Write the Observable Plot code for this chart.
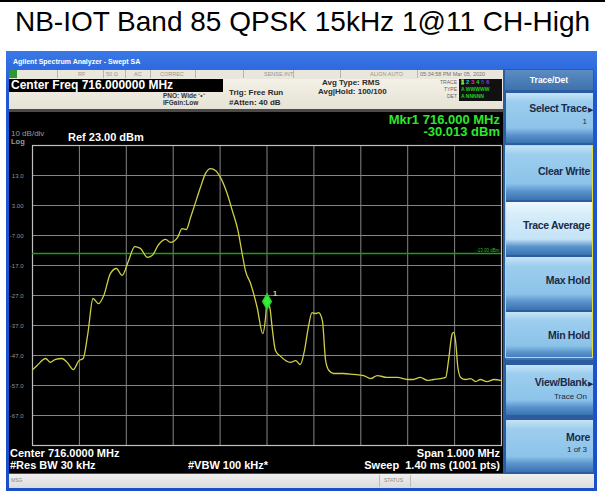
<!DOCTYPE html>
<html><head><meta charset="utf-8">
<script src="https://cdn.jsdelivr.net/npm/d3@7"></script>
<script src="https://cdn.jsdelivr.net/npm/@observablehq/plot@0.6"></script>
<style>
body{margin:0;background:#fff;}
#root{position:relative;width:605px;height:492px;overflow:hidden;font-family:"Liberation Sans",Arial,sans-serif;background:#fff;}
.a{position:absolute;white-space:nowrap;}
.btn{position:absolute;left:506px;width:87px;background:linear-gradient(#c6e4f7 0%,#9ccdee 18%,#8cc3e9 70%,#5a93cc 84%,#3a72b2 100%);}
.btn.sel{background:linear-gradient(#eef8fd 0%,#d8eefa 20%,#c4e3f6 70%,#5a93cc 84%,#3a72b2 100%);}
.bt{position:absolute;right:3px;font-weight:bold;font-size:10.5px;color:#1b2a48;letter-spacing:-0.3px;}
.bs{position:absolute;right:6px;font-size:8px;color:#1b2a48;}
.st{position:absolute;font-size:5.5px;color:#9a968c;line-height:8px;top:70px;}
.sep{position:absolute;top:70px;width:1px;height:8px;background:#b8b4a8;}
.w{color:#fff;font-weight:bold;font-size:11px;line-height:12px;}
#chart svg{overflow:visible;}
</style></head>
<body><div id="root">
<div class="a" style="left:0;top:0;width:605px;height:2px;background:#000"></div>
<div class="a" style="left:0;top:7px;width:605px;text-align:center;font-size:28px;line-height:30px;color:#000">NB-IOT Band 85 QPSK 15kHz 1@11 CH-High</div>
<div class="a" style="left:6px;top:51px;width:591px;height:440px;background:linear-gradient(#3a78e6,#1f56d2 10%,#1b4fc8)"></div>
<div class="a" style="left:13px;top:57px;font-size:7px;font-weight:bold;color:#fff;line-height:9px">Agilent Spectrum Analyzer - Swept SA</div>
<div class="a" style="left:9px;top:70px;width:494px;height:9px;background:#e9e6dc"></div>
<div class="a" style="left:9px;top:70px;width:8px;height:8px;background:#2f9a2f"></div>
<div class="sep" style="left:57px"></div><div class="sep" style="left:103px"></div><div class="sep" style="left:125px"></div><div class="sep" style="left:150px"></div><div class="sep" style="left:195px"></div><div class="sep" style="left:243px"></div><div class="sep" style="left:293px"></div><div class="sep" style="left:340px"></div><div class="sep" style="left:417px"></div>
<div class="st" style="left:78px">RF</div><div class="st" style="left:106px">50 Ω</div><div class="st" style="left:134px">AC</div><div class="st" style="left:160px">CORREC</div><div class="st" style="left:264px">SENSE:INT</div><div class="st" style="left:370px">ALIGN AUTO</div><div class="st" style="left:420px;color:#77736a">05:34:58 PM Mar 05, 2020</div>
<div class="a" style="left:9px;top:79px;width:494px;height:30px;background:linear-gradient(#f3f0e6,#e6e2d6)"></div>
<div class="a" style="left:9px;top:79px;width:214px;height:13px;background:#000"></div>
<div class="a" style="left:11px;top:79px;font-size:12px;line-height:13px;font-weight:bold;color:#fff">Center Freq 716.000000 MHz</div>
<div class="a" style="left:163px;top:92px;font-size:6.5px;font-weight:bold;color:#333;line-height:7px">PNO: Wide ⁻•⁻</div>
<div class="a" style="left:163px;top:99px;font-size:6.5px;font-weight:bold;color:#333;line-height:7px">IFGain:Low</div>
<div class="a" style="left:229px;top:88px;font-size:8px;font-weight:bold;color:#2a2a2a;line-height:9px">Trig: Free Run</div>
<div class="a" style="left:229px;top:98px;font-size:8px;font-weight:bold;color:#2a2a2a;line-height:9px">#Atten: 40 dB</div>
<div class="a" style="left:322px;top:78px;font-size:8px;font-weight:bold;color:#2a2a2a;line-height:9px">Avg Type: RMS</div>
<div class="a" style="left:318px;top:87px;font-size:8px;font-weight:bold;color:#2a2a2a;line-height:9px">Avg|Hold: 100/100</div>
<div class="a" style="left:430px;top:79px;width:27px;text-align:right;font-size:5px;color:#666;line-height:7px">TRACE<br>TYPE<br>DET</div>
<div class="a" style="left:459px;top:79px;width:43px;height:22px;background:#111;font-size:6px;line-height:7px;font-weight:bold;padding-left:2px;box-sizing:border-box"><span style="color:#e8e840;background:#2a8a2a">1</span> <span style="color:#22cccc">2</span> <span style="color:#cc33cc">3</span> <span style="color:#33cc33">4</span> <span style="color:#3344ee">5</span> <span style="color:#9933cc">6</span><br><span style="color:#2c2;font-size:5px">A WWWWW</span><br><span style="color:#2c2;font-size:5px">A NNNNN</span></div>
<div class="a" style="left:9px;top:109px;width:494px;height:3px;background:#4a4a4a"></div>
<div class="a" style="left:503px;top:69px;width:91px;height:405px;background:#2a5c9e"></div>
<div class="a" style="left:505px;top:70px;width:88px;height:20px;background:linear-gradient(#5b8cc2,#3f72ad);color:#fff;font-weight:bold;font-size:8.5px;line-height:20px;text-align:center">Trace/Det</div>
<div id="chart" class="a" style="left:9px;top:112px"></div>
<div id="overlay"></div>
<div class="a" style="left:9px;top:474px;width:585px;height:14px;background:linear-gradient(#f0f0f0,#dcdcdc)"></div>
<div class="a" style="left:11px;top:477px;font-size:5px;color:#888">MSG</div>
<div class="a" style="left:379px;top:475px;width:1px;height:12px;background:#bbb"></div>
<div class="a" style="left:410px;top:475px;width:1px;height:12px;background:#bbb"></div>
<div class="a" style="left:384px;top:477px;font-size:5px;color:#888">STATUS</div>
</div>
<script>
// ---- data ----
const centerMHz = 716.0;
const spanMHz = 1.0;
const refLevel = 23;
const dbPerDiv = 10;
const freqOffsetKHz = [-500,-490,-472,-462,-451,-437,-426,-413,-401,-392,-382,-371,-359,-348,-334,-321,-309,-295,-282,-270,-255,-245,-231,-216,-206,-191,-181,-172,-163,-156,-142,-131,-120,-110,-99,-85,-74,-62,-53,-46,-35,-21,-9,-3,0,6,11,18,29,50,61,71,80,88,96,103,110,118,125,132,142,163,184,206,221,235,256,278,299,312,327,342,355,370,381,387,395,398,402,407,413,423,434,445,455,469,484,498];
const levelDbm = [-51.8,-50.3,-48.0,-49.3,-48.3,-48.0,-49.3,-51.7,-48.7,-48.0,-39.7,-28.0,-29.7,-27.0,-19.7,-18.0,-20.3,-15.3,-10.7,-11.3,-14.3,-13.7,-10.0,-8.3,-9.3,-7.7,-4.7,-5.0,-1.0,2.3,9.0,13.7,15.3,14.7,12.3,7.0,1.3,-5.3,-13.0,-18.7,-23.0,-31.0,-39.7,-34.3,-29.0,-31.0,-37.7,-45.3,-47.3,-49.3,-48.7,-50.0,-45.3,-37.7,-32.7,-33.0,-32.7,-35.3,-48.7,-52.0,-53.0,-53.0,-53.3,-53.7,-54.7,-53.7,-54.3,-54.3,-55.0,-55.0,-54.3,-55.3,-55.0,-54.7,-54.3,-48.7,-39.7,-39.3,-42.0,-51.0,-54.3,-55.0,-54.7,-55.7,-55.0,-55.7,-55.0,-55.3];
const yTicks = [13, 3, -7, -17, -27, -37, -47, -57, -67];
const yTickLabels = ["13.0","3.00","-7.00","-17.0","-27.0","-37.0","-47.0","-57.0","-67.0"];
const limitDbm = -13;
const limitLabel = "-13.00 dBm";
const markerOffsetKHz = 0;
const markerReadFreq = "716.000 MHz";
const markerReadLevel = "-30.013 dBm";

// ---- build ----
const fMin = centerMHz - spanMHz/2, fMax = centerMHz + spanMHz/2;
const trace = freqOffsetKHz.map((k,i)=>({f: centerMHz + k/1000, v: levelDbm[i]}));
const xGrid = d3.range(1,10).map(i => fMin + i*spanMHz/10);
const marker = [trace[freqOffsetKHz.indexOf(markerOffsetKHz)]];

const chart = Plot.plot({
  width: 494, height: 361,
  marginLeft: 23, marginRight: 2, marginTop: 33, marginBottom: 28,
  x: {domain: [fMin, fMax], axis: null},
  y: {domain: [refLevel - 10*dbPerDiv, refLevel], axis: null},
  style: {background: "#000", fontFamily: "Liberation Sans, Arial, sans-serif", overflow: "visible"},
  marks: [
    Plot.ruleX(xGrid, {stroke: "#858585", strokeWidth: 1}),
    Plot.ruleY(yTicks, {stroke: "#858585", strokeWidth: 1}),
    Plot.frame({stroke: "#c0c0c0", strokeWidth: 1.2}),
    Plot.ruleY([limitDbm], {stroke: "#1f9a1f", strokeWidth: 1.5}),
    Plot.text([limitLabel], {x: () => fMax, y: () => limitDbm, text: d => d, textAnchor: "end", dx: -2, dy: -3, fill: "#2fbf2f", fontSize: 4.5}),
    Plot.line(trace, {x: "f", y: "v", stroke: "#cfcf45", strokeWidth: 1.3, curve: "monotone-x"}),
    Plot.dot(marker, {x: "f", y: "v", symbol: "diamond", r: 4.5, fill: "#35ee35", stroke: "#2ad42a"}),
    Plot.text(marker, {x: "f", y: "v", text: () => "1", dx: 8, dy: -8, fill: "#e0d84a", fontSize: 8, fontWeight: "bold"}),
    Plot.axisY(yTicks, {tickFormat: d => yTickLabels[yTicks.indexOf(d)], tickSize: 0, tickPadding: 3, dx: -6, dy: 1, fill: "#949494", fontSize: 6, label: null})
  ]
});
document.getElementById("chart").appendChild(chart);

const ov = document.getElementById("overlay");
function add(html){ ov.insertAdjacentHTML("beforeend", html); }
add(`<div class="a" style="right:105px;top:114px;color:#2de82d;font-weight:bold;font-size:13px;line-height:12px">Mkr1 ${markerReadFreq}</div>`);
add(`<div class="a" style="right:105px;top:126px;color:#2de82d;font-weight:bold;font-size:13px;line-height:12px">${markerReadLevel}</div>`);
add(`<div class="a" style="left:11px;top:130px;color:#9a9a9a;font-size:8px;line-height:8px">${dbPerDiv} dB/div</div>`);
add(`<div class="a" style="left:11px;top:138px;color:#9a9a9a;font-size:7.5px;font-weight:bold;line-height:7px">Log</div>`);
add(`<div class="a w" style="left:68px;top:131px">Ref ${refLevel.toFixed(2)} dBm</div>`);
add(`<div class="a w" style="left:10px;top:447px">Center ${centerMHz.toFixed(4)} MHz</div>`);
add(`<div class="a w" style="left:10px;top:459px">#Res BW 30 kHz</div>`);
add(`<div class="a w" style="left:188px;top:459px">#VBW 100 kHz*</div>`);
add(`<div class="a w" style="right:105px;top:447px">Span ${spanMHz.toFixed(3)} MHz</div>`);
add(`<div class="a w" style="right:105px;top:459px">Sweep&nbsp; 1.40 ms (1001 pts)</div>`);

const buttons = [
  {top: 93, h: 50, t: "Select Trace", ty: 102, arrow: true, s: "1", sy: 117},
  {top: 145, h: 55, t: "Clear Write", ty: 165},
  {top: 202, h: 53, t: "Trace Average", ty: 219, sel: true},
  {top: 257, h: 53, t: "Max Hold", ty: 274},
  {top: 312, h: 48, t: "Min Hold", ty: 329},
  {top: 365, h: 50, t: "View/Blank", ty: 376, arrow: true, s: "Trace On", sy: 392},
  {top: 420, h: 52, t: "More", ty: 431, s: "1 of 3", sy: 445}
];
for (const b of buttons) {
  add(`<div class="btn${b.sel ? " sel" : ""}" style="top:${b.top}px;height:${b.h}px"></div>`);
  add(`<div class="a bt" style="right:${605-593+ (b.arrow ? 6 : 3)}px;top:${b.ty}px">${b.t}</div>`);
  if (b.arrow) add(`<div class="a" style="left:588px;top:${b.ty+4}px;font-size:7px;color:#1b2a48">▶</div>`);
  if (b.s) add(`<div class="a bs" style="right:${605-593+6}px;top:${b.sy}px">${b.s}</div>`);
}
add(`<div class="a" style="left:505px;top:145px;width:86px;height:211px;border:1.5px solid #e2dc3c"></div>`);
</script>
</body></html>
